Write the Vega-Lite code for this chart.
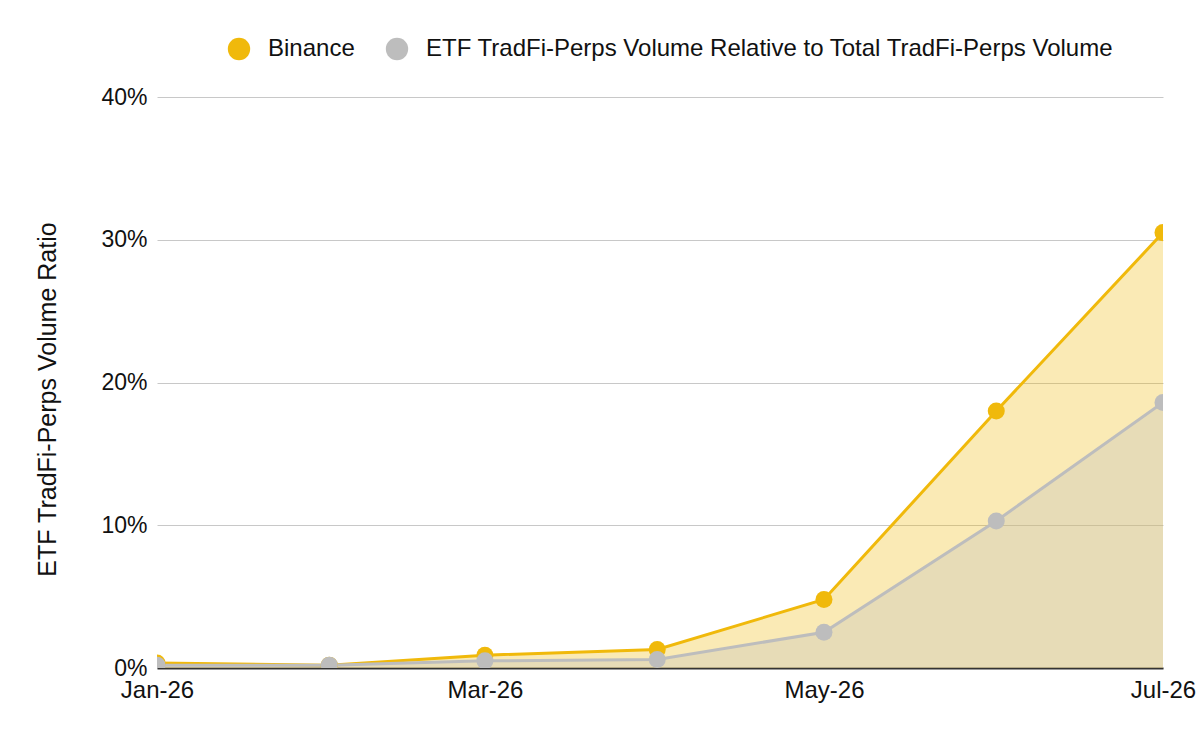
{
  "$schema": "https://vega.github.io/schema/vega-lite/v6.json",
  "autosize": "none",
  "width": 1006,
  "height": 571,
  "padding": {"left": 157, "top": 97, "right": 37, "bottom": 74},
  "background": "white",
  "config": {
    "font": "Liberation Sans",
    "view": {"stroke": null}
  },
  "data": {
    "values": [
      {"date": "2026-01-01", "series": "Binance", "ratio": 0.0035},
      {"date": "2026-02-01", "series": "Binance", "ratio": 0.002},
      {"date": "2026-03-01", "series": "Binance", "ratio": 0.009},
      {"date": "2026-04-01", "series": "Binance", "ratio": 0.013},
      {"date": "2026-05-01", "series": "Binance", "ratio": 0.048},
      {"date": "2026-06-01", "series": "Binance", "ratio": 0.18},
      {"date": "2026-07-01", "series": "Binance", "ratio": 0.305},
      {"date": "2026-01-01", "series": "ETF TradFi-Perps Volume Relative to Total TradFi-Perps Volume", "ratio": 0.002},
      {"date": "2026-02-01", "series": "ETF TradFi-Perps Volume Relative to Total TradFi-Perps Volume", "ratio": 0.002},
      {"date": "2026-03-01", "series": "ETF TradFi-Perps Volume Relative to Total TradFi-Perps Volume", "ratio": 0.005},
      {"date": "2026-04-01", "series": "ETF TradFi-Perps Volume Relative to Total TradFi-Perps Volume", "ratio": 0.006},
      {"date": "2026-05-01", "series": "ETF TradFi-Perps Volume Relative to Total TradFi-Perps Volume", "ratio": 0.025},
      {"date": "2026-06-01", "series": "ETF TradFi-Perps Volume Relative to Total TradFi-Perps Volume", "ratio": 0.103},
      {"date": "2026-07-01", "series": "ETF TradFi-Perps Volume Relative to Total TradFi-Perps Volume", "ratio": 0.186}
    ]
  },
  "encoding": {
    "x": {
      "field": "date",
      "type": "temporal",
      "scale": {
        "type": "utc",
        "nice": false,
        "domain": [
          {"year": 2026, "month": 1, "date": 1, "utc": true},
          {"year": 2026, "month": 7, "date": 1, "utc": true}
        ]
      },
      "axis": {
        "title": null,
        "labelExpr": "utcFormat(datum.value, '%b-%y')",
        "values": [
          {"year": 2026, "month": 1, "date": 1, "utc": true},
          {"year": 2026, "month": 3, "date": 1, "utc": true},
          {"year": 2026, "month": 5, "date": 1, "utc": true},
          {"year": 2026, "month": 7, "date": 1, "utc": true}
        ],
        "grid": false,
        "ticks": false,
        "domainColor": "#333333",
        "domainWidth": 2,
        "labelFontSize": 24,
        "labelColor": "#111111",
        "labelPadding": 10,
        "labelFlush": false,
        "labelOverlap": false
      }
    },
    "y": {
      "field": "ratio",
      "type": "quantitative",
      "stack": null,
      "scale": {"domain": [0, 0.4], "nice": false},
      "axis": {
        "title": "ETF TradFi-Perps Volume Ratio",
        "titleFontSize": 25,
        "titleFontWeight": "normal",
        "titleColor": "#111111",
        "titleAngle": -90,
        "titleAlign": "center",
        "titleBaseline": "middle",
        "titleX": -110,
        "titleY": 302,
        "format": ".0%",
        "values": [0, 0.1, 0.2, 0.3, 0.4],
        "domain": false,
        "ticks": false,
        "gridColor": "#c8c8c8",
        "gridWidth": 1,
        "labelFontSize": 23,
        "labelColor": "#111111",
        "labelPadding": 10
      }
    },
    "color": {
      "field": "series",
      "type": "nominal",
      "scale": {
        "domain": ["Binance", "ETF TradFi-Perps Volume Relative to Total TradFi-Perps Volume"],
        "range": ["#f0b90b", "#bdbdbd"]
      },
      "legend": {
        "title": null,
        "orient": "none",
        "direction": "horizontal",
        "legendX": 70,
        "legendY": -60,
        "symbolType": "circle",
        "symbolSize": 500,
        "symbolOpacity": 1,
        "labelFontSize": 24,
        "labelColor": "#111111",
        "labelLimit": 900,
        "labelOffset": 17,
        "columnPadding": 30,
        "symbolStrokeWidth": 0
      }
    }
  },
  "layer": [
    {"mark": {"type": "area", "opacity": 0.3, "clip": true}},
    {"mark": {"type": "line", "strokeWidth": 3, "clip": true}},
    {"mark": {"type": "point", "filled": true, "opacity": 1, "size": 290, "clip": true}}
  ]
}
